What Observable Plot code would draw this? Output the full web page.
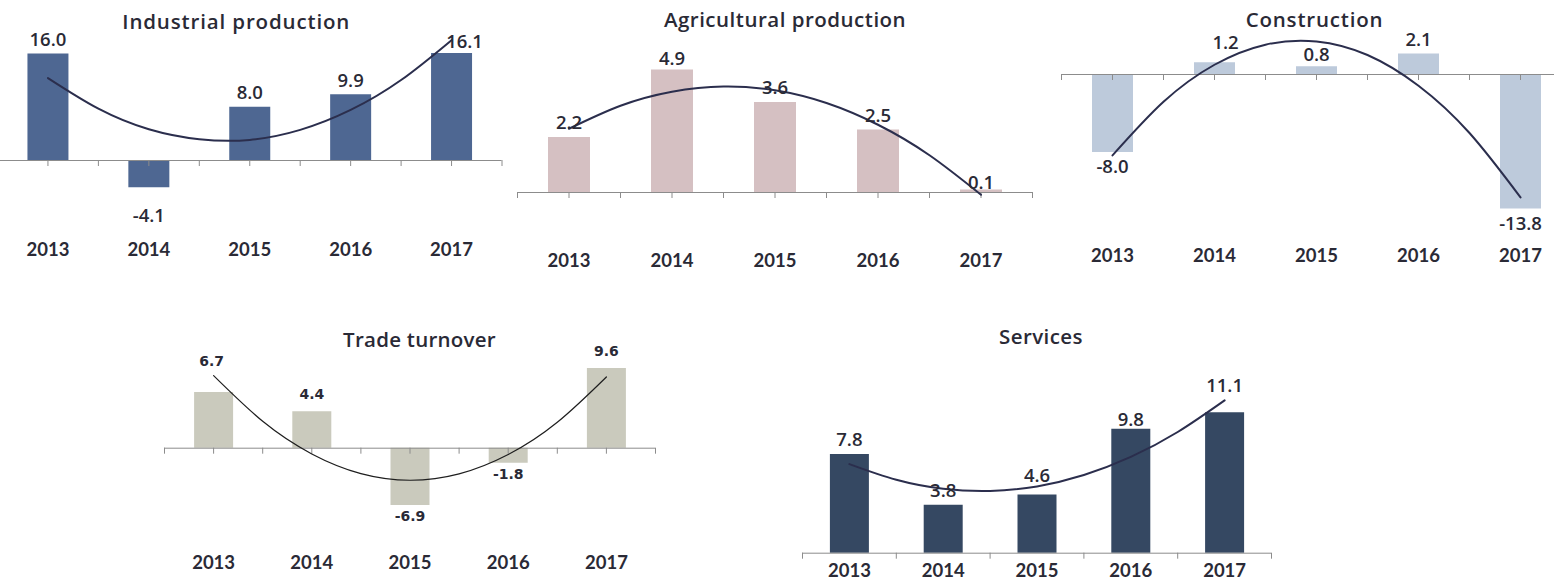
<!DOCTYPE html>
<html>
<head>
<meta charset="utf-8">
<script src="https://cdn.jsdelivr.net/npm/d3@7"></script>
<script src="https://cdn.jsdelivr.net/npm/@observablehq/plot@0.6"></script>
<style>
html, body { margin: 0; padding: 0; background: #fff; }
#root { position: relative; width: 1554px; height: 583px; overflow: hidden; background: #fff; }
#root svg { position: absolute; background: transparent; overflow: visible; }
</style>
</head>
<body>
<div id="root"></div>
<script>
// ---- data ----
const years = [2013, 2014, 2015, 2016, 2017];
const industrial   = [16.0, -4.1, 8.0, 9.9, 16.1];
const agricultural = [2.2, 4.9, 3.6, 2.5, 0.1];
const construction = [-8.0, 1.2, 0.8, 2.1, -13.8];
const trade        = [6.7, 4.4, -6.9, -1.8, 9.6];
const services     = [7.8, 3.8, 4.6, 9.8, 11.1];

// trend curves (polynomial trend lines)
const trendYears = [2013, 2013.5, 2014, 2014.5, 2015, 2015.5, 2016, 2016.5, 2017];
const industrialTrend   = [12.4, 7.8, 4.7, 3.2, 3.1, 4.6, 7.6, 12.1, 18.1];
const agriculturalTrend = [2.55, 3.47, 4.03, 4.24, 4.09, 3.58, 2.71, 1.49, -0.09];
const constructionTrend = [-8.3, -2.8, 1.0, 3.06, 3.39, 2.0, -1.15, -6.0, -12.6];
const tradeTrend        = [8.74, 3.24, -0.69, -3.06, -3.86, -3.1, -0.77, 3.12, 8.58];
const servicesTrend     = [7.04, 5.8, 5.09, 4.92, 5.28, 6.18, 7.61, 9.58, 12.08];

const titles = ["Industrial production", "Agricultural production", "Construction", "Trade turnover", "Services"];

// ---- layout & style ----
const TEXT = "#2a2a36";
const AXIS = "#8c8c8c";
const labelSans = {fontFamily: "'Open Sans', Lato, sans-serif", fontSize: 18.5, fontWeight: 600, fill: TEXT};
const labelVerdana = {fontFamily: "'DejaVu Sans', Verdana, sans-serif", fontSize: 14, fontWeight: "bold", fill: TEXT};
const yearFont = {fontFamily: "Lato, 'Open Sans', sans-serif", fontSize: 18.5, fontWeight: "bold", fill: TEXT};
const titleFont = {fontFamily: "'Open Sans', Lato, sans-serif", fontSize: 20.5, fontWeight: 600, fill: TEXT};
const titleSpacing = [0.85, 0.5, 0.8, 0.25, 0.4];

const panels = [
  {title: titles[0], values: industrial, trend: industrialTrend,
   left: -3.2, top: 0, width: 504.5, height: 270, zero: 160, ppu: 6.65, frameTop: 30, frameBottom: 230,
   titleY: 22, titleDx: -13.5, yearY: 250, barWidth: 41, bar: "#4e6792",
   trendColor: "#2b2e4d", trendWidth: 2, label: labelSans, posDy: -14, negDy: 28,
   nudges: {2017: [13, 3]}, centerTicks: true},
  {title: titles[1], values: agricultural, trend: agriculturalTrend,
   left: 516.5, top: 0, width: 515, height: 290, zero: 192, ppu: 25, frameTop: 35, frameBottom: 240,
   titleY: 20, titleDx: 10, yearY: 261, barWidth: 42, bar: "#d5c0c2",
   trendColor: "#2b2e4d", trendWidth: 2, label: labelSans, posDy: -14, negDy: 14,
   nudges: {2014: [0, 3], 2017: [0, 7]}, centerTicks: true},
  {title: titles[2], values: construction, trend: constructionTrend,
   left: 1061, top: 0, width: 510, height: 280, zero: 74, ppu: 9.75, frameTop: 30, frameBottom: 240,
   titleY: 20, titleDx: -2, yearY: 256, barWidth: 41, bar: "#bdcadb",
   trendColor: "#2b2e4d", trendWidth: 2, label: labelSans, posDy: -14, negDy: 15,
   nudges: {2014: [11, -6], 2015: [0, 2.5]}, centerTicks: true},
  {title: titles[3], values: trade, trend: tradeTrend,
   left: 164, top: 310, width: 491, height: 273, zero: 447.7, ppu: 8.3, frameTop: 355, frameBottom: 540,
   titleY: 340, titleDx: 9.5, yearY: 562.5, barWidth: 39, bar: "#cacabd",
   trendColor: "#1e1e1e", trendWidth: 1.2, label: labelVerdana, posDy: -17, negDy: 11,
   nudges: {2013: [-2, -14]}, centerTicks: true},
  {title: titles[4], values: services, trend: servicesTrend,
   left: 802, top: 310, width: 469, height: 273, zero: 552.7, ppu: 12.65, frameTop: 360, frameBottom: 556,
   titleY: 337, titleDx: 4, yearY: 570.5, barWidth: 39, bar: "#354862",
   trendColor: "#2b2e4d", trendWidth: 2, label: labelSans, posDy: -14, negDy: 14,
   nudges: {2015: [0, -5], 2016: [0, 5], 2017: [0, -13]}, centerTicks: false}
];

const root = document.getElementById("root");

function drawPanel(p, k) {
  const data = years.map((year, i) => ({year, value: p.values[i]}));
  const trendData = trendYears.map((year, i) => ({year, value: p.trend[i]}));
  const mt = p.frameTop - p.top;
  const mb = p.top + p.height - p.frameBottom;
  const ymax = (p.zero - p.frameTop) / p.ppu;
  const ymin = -(p.frameBottom - p.zero) / p.ppu;
  const ticks = p.centerTicks ? d3.range(2012.5, 2017.51, 0.5) : d3.range(2012.5, 2017.51, 1);

  const labels = data.map(d => {
    const [ndx, ndy] = p.nudges[d.year] || [0, 0];
    return Plot.text([d], {
      x: "year", y: "value", text: v => v.value.toFixed(1),
      dx: ndx, dy: (d.value >= 0 ? p.posDy : p.negDy) + ndy,
      lineAnchor: "middle", textAnchor: "middle", ...p.label
    });
  });

  const chart = Plot.plot({
    width: p.width, height: p.height,
    marginTop: mt, marginBottom: mb, marginLeft: 0, marginRight: 0,
    x: {domain: [2012.5, 2017.5], axis: null},
    y: {domain: [ymin, ymax], axis: null},
    style: {background: "transparent", overflow: "visible"},
    marks: [
      Plot.ruleX(data, {x: "year", y1: 0, y2: "value", stroke: p.bar, strokeWidth: p.barWidth}),
      Plot.ruleY([0], {stroke: AXIS, strokeWidth: 1}),
      Plot.ruleX(ticks, {x: d => d, y1: 0, y2: 0, insetBottom: -6, stroke: AXIS, strokeWidth: 1}),
      Plot.line(trendData, {x: "year", y: "value", curve: "natural", stroke: p.trendColor, strokeWidth: p.trendWidth}),
      ...labels,
      Plot.text(years, {x: d => d, frameAnchor: "bottom", dy: p.yearY - p.frameBottom, text: d => String(d), lineAnchor: "middle", ...yearFont}),
      Plot.text([p.title], {frameAnchor: "top", dy: p.titleY - p.frameTop, dx: p.titleDx, text: d => d, lineAnchor: "middle", ariaLabel: () => "panel-title", ...titleFont})
    ]
  });
  chart.querySelectorAll('[aria-label="panel-title"]').forEach(el => {
    el.setAttribute("letter-spacing", titleSpacing[k]);
    el.style.letterSpacing = titleSpacing[k] + "px";
  });
  chart.style.left = p.left + "px";
  chart.style.top = p.top + "px";
  root.appendChild(chart);
}

panels.forEach(drawPanel);
</script>
</body>
</html>
